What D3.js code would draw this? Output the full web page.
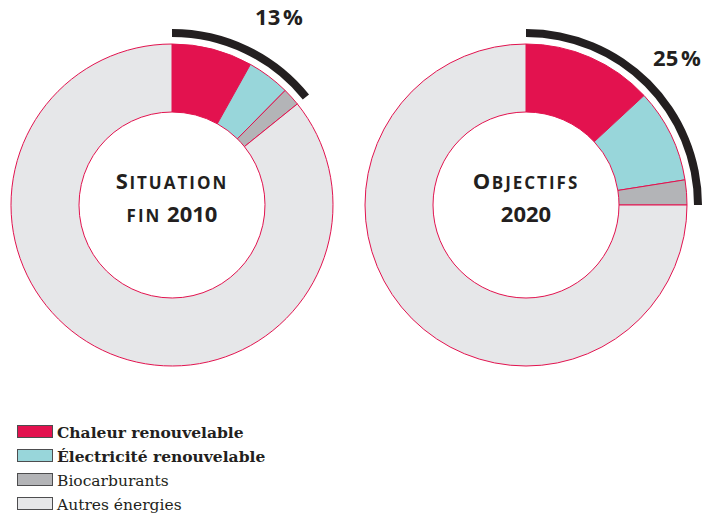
<html>
<head>
<meta charset="utf-8">
<script src="https://d3js.org/d3.v7.min.js"></script>
<style>
  body { margin: 0; background: #fff; }
  svg { display: block; }
  .pct { font-family: "Open Sans", sans-serif; font-weight: 700; font-size: 22px; fill: #231f20; }
  .title { font-family: "Open Sans", sans-serif; font-weight: 700; fill: #231f20; }
  .leg { font-family: "DejaVu Serif", serif; font-size: 15.5px; fill: #231f20; }
</style>
</head>
<body>
<svg width="704" height="514"></svg>
<script>
// data
var categories = ["Chaleur renouvelable", "Électricité renouvelable", "Biocarburants", "Autres énergies"];
var colors = ["#e3124f", "#98d6da", "#b3b4b7", "#e6e7e9"];
var charts = ["2010", "2020"];
var values2010 = [8.1, 4.3, 1.8, 85.8];
var values2020 = [13.1, 9.4, 2.5, 75.0];
var totalLabels = ["13\u202F%", "25\u202F%"];
var titleLine1 = [["S", "ITUATION"], ["O", "BJECTIFS"]];
var titleLine2 = [["FIN", " 2010"], ["", "2020"]];

var svg = d3.select("svg");
var cx = d3.scalePoint().domain(charts).range([172, 526]);
var cy = 205;
var rOuter = 161, rInner = 93;

var pie = d3.pie().sort(null).value(function(d) { return d; });
var arc = d3.arc().innerRadius(rInner).outerRadius(rOuter);
var band = d3.arc().innerRadius(168).outerRadius(176);

// label offsets (layout, per chart)
var labelPos = [[107, -188], [151, -147]];

charts.forEach(function(c, i) {
  var vals = i == 0 ? values2010 : values2020;
  var g = svg.append("g").attr("transform", "translate(" + cx(c) + "," + cy + ")");
  var slices = pie(vals);

  g.selectAll("path.slice").data(slices).enter().append("path")
    .attr("class", "slice")
    .attr("d", arc)
    .attr("fill", function(d, j) { return colors[j]; })
    .attr("stroke", "#e2134f")
    .attr("stroke-width", 1);

  // black arc over the renewable share
  var endA = slices[2].endAngle;
  g.append("path")
    .attr("d", band({startAngle: 0, endAngle: endA}))
    .attr("fill", "#231f20");

  g.append("text").attr("class", "pct")
    .attr("x", labelPos[i][0]).attr("y", labelPos[i][1])
    .attr("text-anchor", "middle")
    .attr("dy", "0.36em")
    .text(totalLabels[i]);

  var t1 = g.append("text").attr("class", "title").attr("text-anchor", "middle").attr("y", -16).attr("x", 0);
  t1.append("tspan").style("font-size", "22px").style("letter-spacing", "1.5px").text(titleLine1[i][0]);
  t1.append("tspan").style("font-size", "17px").style("letter-spacing", "2px").text(titleLine1[i][1]);
  var t2 = g.append("text").attr("class", "title").attr("text-anchor", "middle").attr("y", 17).attr("x", 0);
  t2.append("tspan").style("font-size", "17px").style("letter-spacing", "2px").text(titleLine2[i][0]);
  t2.append("tspan").style("font-size", "22px").text(titleLine2[i][1]);
});

// legend
var ly = d3.scaleBand().domain(categories).range([425, 521]).paddingInner(0);
var leg = svg.append("g");
var rows = leg.selectAll("g").data(categories).enter().append("g")
  .attr("transform", function(d) { return "translate(0," + ly(d) + ")"; });
rows.append("rect")
  .attr("x", 17.5).attr("y", 0.5)
  .attr("width", 35).attr("height", 12)
  .attr("fill", function(d, j) { return colors[j]; })
  .attr("stroke", "#4d4d4f").attr("stroke-width", 1);
rows.append("text").attr("class", "leg")
  .attr("x", 57).attr("y", 12.5)
  .style("font-weight", function(d, j) { return j < 2 ? 700 : 400; })
  .text(function(d) { return d; });
</script>
</body>
</html>
